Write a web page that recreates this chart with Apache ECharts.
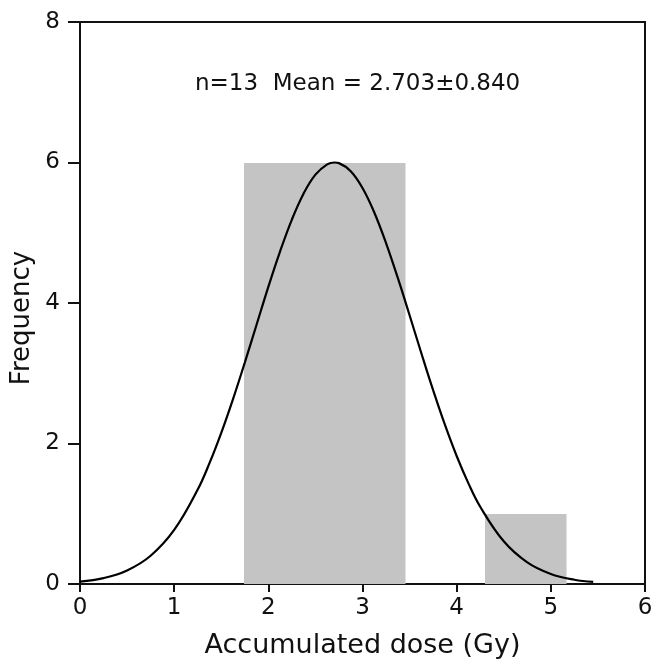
<!DOCTYPE html>
<html>
<head>
<meta charset="utf-8">
<script src="https://cdn.jsdelivr.net/npm/echarts@6/dist/echarts.min.js"></script>
<style>html,body{margin:0;padding:0;background:#fff}#c{width:655px;height:669px}</style>
</head>
<body>
<div id="c"></div>
<script>
// Histogram bins (Gy) and frequencies
const binStart = [1.74, 2.595, 3.45, 4.305];
const binEnd   = [2.595, 3.45, 4.305, 5.16];
const counts   = [6, 6, 0, 1];
// Fitted normal curve
const curveX = [0, 0.25, 0.5, 0.75, 1.0, 1.25, 1.375, 1.5, 1.625, 1.75, 1.875, 2.0, 2.125, 2.25, 2.375, 2.5, 2.625, 2.703, 2.75, 2.875, 3.0, 3.125, 3.25, 3.375, 3.5, 3.625, 3.75, 3.875, 4.0, 4.125, 4.25, 4.5, 4.75, 5.0, 5.25, 5.45];
const curveY = [0.034, 0.084, 0.193, 0.402, 0.769, 1.344, 1.720, 2.152, 2.633, 3.152, 3.691, 4.23, 4.735, 5.188, 5.56, 5.827, 5.974, 6.0, 5.991, 5.875, 5.637, 5.289, 4.854, 4.357, 3.826, 3.285, 2.759, 2.267, 1.822, 1.432, 1.100, 0.608, 0.308, 0.143, 0.060, 0.029];
const xTicks = [0, 1, 2, 3, 4, 5, 6];
const yTicks = [0, 2, 4, 6, 8];
const xTitle = 'Accumulated dose (Gy)';
const yTitle = 'Frequency';
const annotation = 'n=13  Mean = 2.703\u00b10.840';

const barData = binStart.map((s, i) => [s, binEnd[i], counts[i]]);
const lineData = curveX.map((x, i) => [x, curveY[i]]);

const chart = echarts.init(document.getElementById('c'), null, {renderer: 'canvas'});
const font = '"DejaVu Sans", sans-serif';
chart.setOption({
  animation: false,
  backgroundColor: '#fff',
  grid: {left: 80, right: 10, top: 22, bottom: 85, show: true, borderColor: '#111', borderWidth: 2,
         backgroundColor: 'transparent', containLabel: false, outerBoundsMode: 'none'},
  xAxis: {
    type: 'value', min: xTicks[0], max: xTicks[xTicks.length - 1], interval: 1,
    name: xTitle, nameLocation: 'middle', nameGap: 48,
    nameTextStyle: {fontFamily: font, fontSize: 27, color: '#111'},
    axisLine: {lineStyle: {color: '#111', width: 2}},
    axisTick: {show: true, length: 8, lineStyle: {color: '#111', width: 2}},
    axisLabel: {fontFamily: font, fontSize: 23, color: '#111', margin: 13},
    splitLine: {show: false}
  },
  yAxis: {
    type: 'value', min: yTicks[0], max: yTicks[yTicks.length - 1], interval: 2,
    axisLine: {show: true, lineStyle: {color: '#111', width: 2}},
    axisTick: {show: true, length: 12, lineStyle: {color: '#111', width: 2}},
    axisLabel: {fontFamily: font, fontSize: 23, color: '#111', margin: 20},
    splitLine: {show: false}
  },
  graphic: [
    {
      type: 'text', x: 195, y: 84,
      style: {text: annotation, fontFamily: font, fontSize: 23, fill: '#111', verticalAlign: 'middle', align: 'left'}
    },
    {
      type: 'text', x: 22, y: 318, rotation: Math.PI / 2,
      style: {text: yTitle, fontFamily: font, fontSize: 26, fill: '#111', verticalAlign: 'middle', align: 'center'}
    }
  ],
  series: [
    {
      type: 'custom',
      data: barData,
      encode: {x: [0, 1], y: 2},
      renderItem: function (params, api) {
        const h = api.value(2);
        if (!h) return null;
        const p0 = api.coord([api.value(0), h]);
        const p1 = api.coord([api.value(1), 0]);
        const x0 = Math.round(p0[0]), x1 = Math.round(p1[0]);
        return {
          type: 'rect',
          shape: {x: x0, y: Math.round(p0[1]), width: x1 - x0 + 0.5, height: Math.round(p1[1]) - Math.round(p0[1])},
          style: {fill: '#c4c4c4', stroke: null}
        };
      },
      z: 1
    },
    {
      type: 'line', data: lineData, smooth: 0.4, showSymbol: false,
      lineStyle: {color: '#000', width: 2.2}, z: 3
    }
  ]
});
</script>
</body>
</html>
